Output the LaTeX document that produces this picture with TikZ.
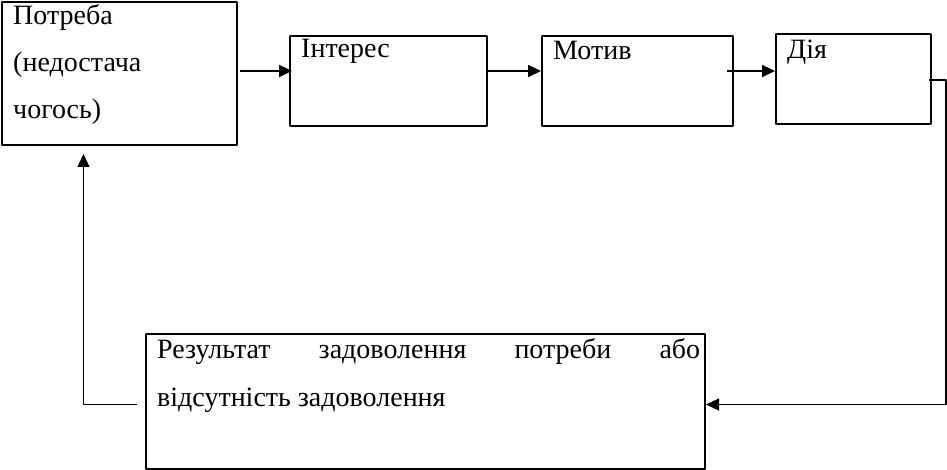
\documentclass[tikz,border=0pt]{standalone}
\usepackage{fontspec}
\setmainfont{Liberation Serif}
\usetikzlibrary{arrows.meta}

\begin{document}
\begin{tikzpicture}[line cap=round,line join=round,>={Triangle[length=13pt,width=12pt]},x=1pt,y=1pt,
  box/.style={draw,line width=2pt,rectangle,inner sep=0pt,anchor=north west},
  txt/.style={inner sep=0pt,anchor=base west,align=left,font=\fontsize{28pt}{47pt}\selectfont},
  mainarrow/.style={->,line width=2.2pt,line cap=butt},
  backarrow/.style={->,line width=1.2pt,line cap=butt}]
\useasboundingbox (0,0) rectangle (947,-470);
\node[box,minimum width=235pt,minimum height=143pt] (need) at (1,-1) {};
\node[box,minimum width=197pt,minimum height=90pt] (interest) at (289,-35) {};
\node[box,minimum width=191pt,minimum height=90pt] (motive) at (541,-35) {};
\node[box,minimum width=155pt,minimum height=90pt] (action) at (775,-33) {};
\node[box,minimum width=559pt,minimum height=135pt] (result) at (145,-333) {};
\node[txt] (needtext) at (13,-119) {Потреба\\(недостача\\чогось)};
\node[txt] (interesttext) at (301,-58) {Інтерес};
\node[txt] (motivetext) at (553,-60) {Мотив};
\node[txt] (actiontext) at (787,-59) {Дія};
\node[txt,text width=543pt,align=justify,font=\fontsize{28pt}{48pt}\selectfont] (resulttext) at (157,-358) {Результат задоволення потреби або\linebreak відсутність задоволення};
\draw[mainarrow] ([xshift=2pt,yshift=2.5pt]need.east) -- ([xshift=3pt,yshift=2.5pt]need.east -| interest.west);
\draw[mainarrow] ([yshift=10pt]interest.east) -- ([yshift=10pt]motive.west);
\draw[mainarrow] ([xshift=-7pt,yshift=10pt]motive.east) -- ([yshift=10pt]motive.east -| action.west);
\draw[backarrow] ([xshift=-3pt,yshift=-1pt]action.east) -| ([xshift=14pt,yshift=-3pt]result.east -| action.east) -- ([yshift=-3pt]result.east);
\draw[backarrow] ([xshift=-8pt,yshift=-3pt]result.west) -| ([xshift=-36pt,yshift=-8pt]need.south);
\end{tikzpicture}
\end{document}
